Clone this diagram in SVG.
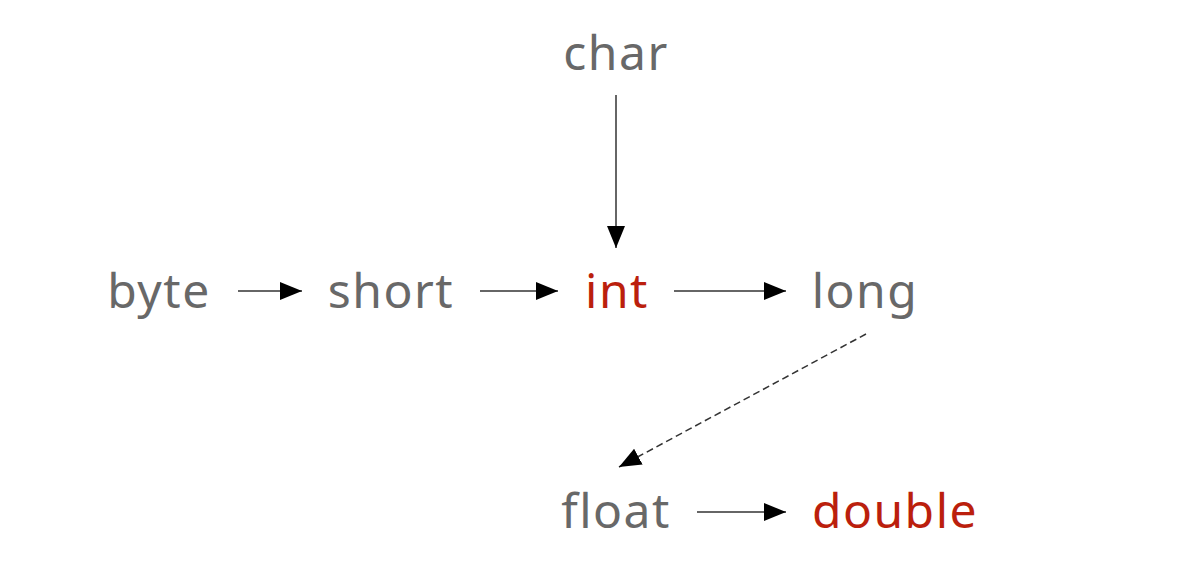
<svg xmlns="http://www.w3.org/2000/svg" width="1179" height="567" viewBox="0 0 1179 567">
<defs>
<style>
.t{font-family:"Noto Sans","Open Sans","Liberation Sans",sans-serif;font-size:48px;letter-spacing:1.5px;fill:#686868;text-anchor:middle}
.r{fill:#bb1f0d}
.c{stroke:#333;stroke-width:1.5;fill:none;marker-end:url(#ah)}
.d{stroke-dasharray:7 4}
</style>
<marker id="ah" markerUnits="userSpaceOnUse" markerWidth="24" markerHeight="20" refX="22" refY="9" orient="auto">
<path d="M0,0 L22,9 L0,18 Z" fill="#000"/>
</marker>
</defs>
<rect width="1179" height="567" fill="#fff"/>
<g id="connectors">
<line class="c" x1="238" y1="291" x2="302" y2="291"/>
<line class="c" x1="480" y1="291" x2="558" y2="291"/>
<line class="c" x1="674" y1="291" x2="786" y2="291"/>
<line class="c" x1="616" y1="95" x2="616" y2="248"/>
<line class="c d" x1="866" y1="334" x2="619" y2="467"/>
<line class="c" x1="697" y1="512" x2="786" y2="512"/>
</g>
<g id="node-char"><text class="t" x="616" y="70">char</text></g>
<g id="node-byte"><text class="t" x="159" y="308">byte</text></g>
<g id="node-short"><text class="t" x="391" y="308">short</text></g>
<g id="node-int"><text class="t r" x="617" y="308">int</text></g>
<g id="node-long"><text class="t" x="865" y="308">long</text></g>
<g id="node-float"><text class="t" x="616" y="528">float</text></g>
<g id="node-double"><text class="t r" x="895" y="528">double</text></g>
</svg>
